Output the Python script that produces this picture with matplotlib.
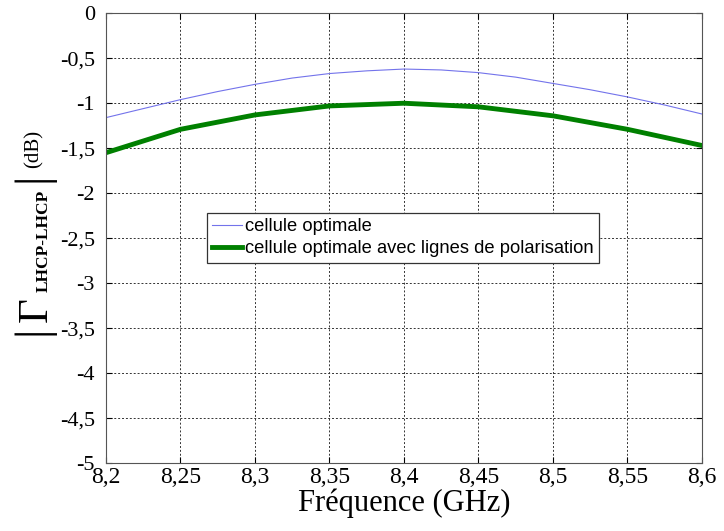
import matplotlib.pyplot as plt
import numpy as np

# data
freq_fine = [8.2, 8.225, 8.25, 8.275, 8.3, 8.325, 8.35, 8.375, 8.4,
             8.425, 8.45, 8.475, 8.5, 8.525, 8.55, 8.575, 8.6]
gain_opt = [-1.16, -1.06, -0.96, -0.87, -0.79, -0.72, -0.67, -0.64, -0.62,
            -0.63, -0.66, -0.71, -0.78, -0.85, -0.93, -1.02, -1.12]
freq = [8.2, 8.25, 8.3, 8.35, 8.4, 8.45, 8.5, 8.55, 8.6]
gain_pol = [-1.55, -1.29, -1.13, -1.03, -1.0, -1.04, -1.14, -1.29, -1.47]

xticks = [8.2, 8.25, 8.3, 8.35, 8.4, 8.45, 8.5, 8.55, 8.6]
yticks = [0, -0.5, -1, -1.5, -2, -2.5, -3, -3.5, -4, -4.5, -5]

W, H = 724, 531
fig = plt.figure(figsize=(W / 100, H / 100), dpi=100)
ax = fig.add_axes([0.1464, 0.128, 0.8232, 0.847])

ax.plot(freq_fine, gain_opt, color=(0.45, 0.45, 0.92), lw=0.8, label='cellule optimale')
ax.plot(freq, gain_pol, color=(0, 0.5, 0), lw=3.5,
        label='cellule optimale avec lignes de polarisation')

ax.set_xlim(8.2, 8.6)
ax.set_ylim(-5, 0)
ax.set_xticks(xticks)
ax.set_yticks(yticks)
fmt = lambda v: ('%g' % v).replace('.', ',')
ax.set_xticklabels([fmt(v) for v in xticks], family='Liberation Serif', fontsize=17)
ax.set_yticklabels([fmt(v) for v in yticks], family='Liberation Serif', fontsize=16)
ax.tick_params(direction='in', top=True, right=True, length=4)
ax.tick_params(axis='x', pad=3)
ax.tick_params(axis='y', pad=8)
ax.grid(True, color='#333333', linestyle=(0, (2, 2)), lw=0.7)
for s in ax.spines.values():
    s.set_color('#555555')

ax.set_xlabel('Fréquence (GHz)', family='Liberation Serif', fontsize=22, labelpad=0)

# y label built from pieces, positions in pixels
def ptext(x, y, s, **kw):
    fig.text(x / W, 1 - y / H, s, rotation=90, ha='center', va='center', **kw)

ptext(33, 177, '|', family='Liberation Serif', fontsize=34)
ptext(33, 330, '|', family='Liberation Serif', fontsize=34)
ptext(37, 310, 'Γ', family='Liberation Serif', fontsize=31)
ptext(44, 241, 'LHCP-LHCP', family='Liberation Serif', fontsize=12.5, weight='bold')
ptext(34, 149, '(dB)', family='Liberation Serif', fontsize=15)

leg = ax.legend(loc='upper left', bbox_to_anchor=(0.169, 0.556),
                prop={'family': 'Liberation Sans', 'size': 13.2},
                fancybox=False, edgecolor='#333333', framealpha=1,
                handlelength=1.6, handletextpad=0.2, borderpad=0.3,
                labelspacing=0.25, borderaxespad=0)
leg.get_frame().set_linewidth(0.9)

fig.savefig('out.png', dpi=100)
